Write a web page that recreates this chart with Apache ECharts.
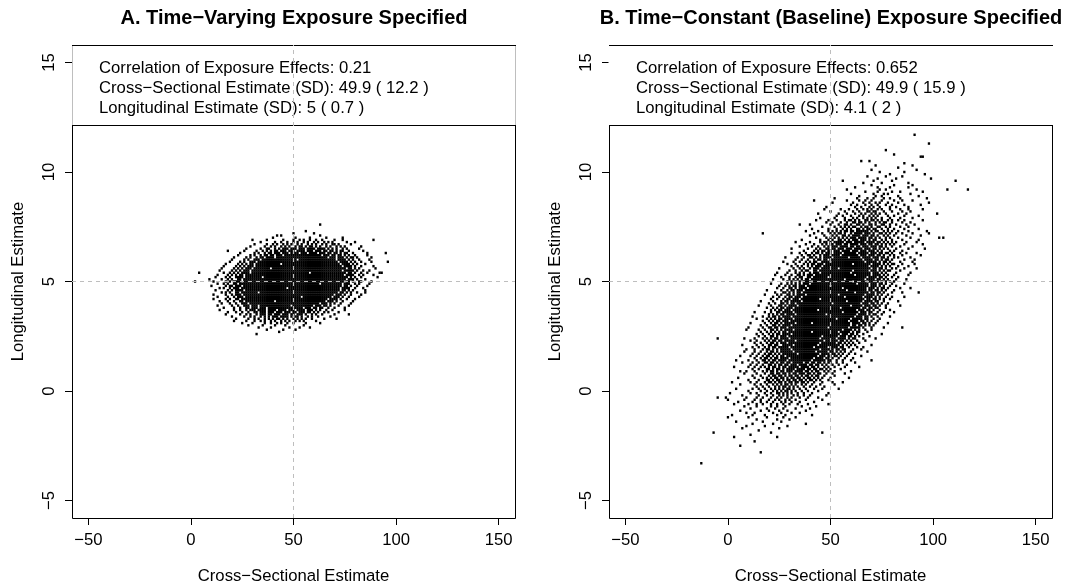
<!DOCTYPE html>
<html>
<head>
<meta charset="utf-8">
<script src="https://cdn.jsdelivr.net/npm/echarts@6/dist/echarts.min.js"></script>
<style>
html,body{margin:0;padding:0;background:#fff;}
#chart{width:1073px;height:586px;}
</style>
</head>
<body>
<div id="chart"></div>
<script>
// ---- text ----
const panelTitles = ['A. Time\u2212Varying Exposure Specified', 'B. Time\u2212Constant (Baseline) Exposure Specified'];
const statLinesA = ['Correlation of Exposure Effects: 0.21', 'Cross\u2212Sectional Estimate (SD): 49.9 ( 12.2 )', 'Longitudinal Estimate (SD): 5 ( 0.7 )'];
const statLinesB = ['Correlation of Exposure Effects: 0.652', 'Cross\u2212Sectional Estimate (SD): 49.9 ( 15.9 )', 'Longitudinal Estimate (SD): 4.1 ( 2 )'];
const xAxisTitle = 'Cross\u2212Sectional Estimate';
const yAxisTitle = 'Longitudinal Estimate';

// ---- axes ----
const xTicks = [-50, 0, 50, 100, 150];
const yTicks = [-5, 0, 5, 10, 15];
const xRange = [-58, 158];
const yRange = [-5.8, 15.8];
const crossRef = 50;
const longRef = 5;

// ---- simulation estimates ----
// each row: [longitudinal estimate, [cross-sectional estimates at that level]]
const rowsA = [
[7.6,[63]],
[7.3,[56]],
[7.2,[50,60]],
[7.1,[42,44,63]],
[7.0,[40,51,58,66,74]],
[6.9,[30,37,45,50,53,55,58,61,64,70,74,89]],
[6.8,[34,41,44,47,50,52,55,57,60,62,65,67,69,76,80]],
[6.7,[31,37,40,42,45,47,49,52,54,57,59,61,64,66,69,70,72,78]],
[6.6,[29,36,39,41,44,46,48,51,53,54,56,58,59,61,63,66,68,71,73,75,83]],
[6.5,[27,34,37,38,41,43,45,46,47,49,50,51,53,54,55,57,58,59,60,62,63,64,65,67,69,71,74,76,82]],
[6.4,[18,26,32,35,37,39,41,42,44,45,46,48,49,50,52,53,54,55,57,58,59,61,62,63,65,66,68,69,71,73,74,77,84]],
[6.3,[24,31,33,36,38,39,41,42,43,45,46,47,49,50,51,52,54,55,56,58,59,60,61,63,64,65,67,68,70,71,73,75,76,79,86,95]],
[6.2,[23,29,31,34,36,37,39,40,42,43,44,46,47,48,49,50,51,52,53,54,55,56,57,58,59,60,61,62,63,65,66,67,69,70,72,73,75,77,80,86]],
[6.1,[21,27,29,32,34,35,37,38,39,40,42,43,44,45,46,47,48,49,50,51,52,53,54,55,56,57,58,59,60,61,62,63,64,65,66,68,69,70,72,73,74,76,78,79,81,88]],
[6.0,[20,26,28,31,32,33,35,36,37,38,39,40,41,42,43,44,45,46,47,48,49,50,51,53,54,55,56,57,58,59,60,61,62,63,64,65,66,67,68,69,70,72,73,74,75,77,79,82,87]],
[5.9,[19,24,26,29,30,31,33,34,35,36,37,38,39,40,41,42,43,44,45,46,47,48,49,50,51,52,53,54,55,56,57,58,59,60,61,62,63,64,65,66,67,68,69,70,71,73,74,75,76,78,80,83,88,96]],
[5.8,[17,23,25,27,29,30,32,33,34,35,36,37,38,39,40,41,42,43,45,46,47,48,49,50,51,52,53,54,55,56,57,58,59,60,61,62,63,64,65,66,67,68,69,70,71,72,74,75,76,77,79,81,85]],
[5.7,[16,22,24,26,28,29,30,32,33,34,35,36,37,38,39,40,41,42,43,44,45,46,47,48,49,50,51,52,53,54,55,56,57,58,59,60,61,62,63,64,65,66,67,68,69,70,71,72,73,75,76,77,78,80,83,89]],
[5.6,[15,21,23,25,27,28,29,31,32,33,34,35,36,37,38,40,41,42,43,44,45,46,47,48,49,50,51,52,53,54,55,56,57,58,59,60,61,62,63,64,65,66,67,68,69,70,71,72,73,74,75,77,78,80,82,90]],
[5.5,[14,20,22,24,26,27,28,30,31,32,33,34,35,36,37,38,39,40,41,42,43,44,45,46,47,48,49,50,51,52,53,54,55,56,57,58,59,60,61,62,63,64,65,66,67,68,69,70,71,72,73,75,76,77,78,79,81,84,87]],
[5.4,[4,16,19,21,23,25,26,27,28,30,31,32,33,34,35,36,37,38,39,40,41,42,43,44,45,46,47,48,49,50,51,52,53,54,55,56,57,59,60,61,62,63,64,65,66,67,68,69,70,71,72,73,74,75,77,78,80,83,86,92,93]],
[5.3,[13,18,20,22,24,25,27,28,29,30,31,32,33,34,35,36,37,38,39,40,41,42,43,44,45,46,47,48,49,50,51,52,53,54,55,56,57,58,59,60,61,62,63,64,65,66,67,68,69,70,71,72,73,74,76,77,78,79,82,84,89]],
[5.2,[12,17,19,22,23,24,25,27,28,29,30,31,32,33,34,36,37,38,39,40,41,42,43,44,45,46,47,48,49,50,51,52,53,54,55,56,57,58,59,60,61,62,63,64,65,66,67,68,69,70,71,72,73,74,75,76,78,80,83,91]],
[5.1,[9,15,18,20,23,24,26,27,28,29,30,31,32,33,34,35,36,37,38,39,40,41,42,43,44,45,46,47,48,49,50,51,52,53,54,55,56,57,58,59,60,61,62,63,64,65,66,67,68,69,70,71,72,73,74,75,77,78,79,81,85]],
[5.0,[2,11,17,19,21,22,23,24,26,27,28,29,30,31,32,33,34,35,36,37,38,39,40,41,42,43,44,45,46,47,48,49,50,51,52,53,54,55,56,57,58,59,60,61,62,63,64,65,66,67,68,69,70,71,72,73,74,76,77,79,82,83,88]],
[4.9,[13,16,18,21,22,24,25,26,27,28,29,30,31,32,33,34,35,36,37,38,39,40,41,42,43,44,45,46,47,48,49,50,51,52,53,54,55,56,57,58,59,60,61,62,64,65,66,67,68,69,70,71,72,73,75,76,77,80,82,87]],
[4.8,[10,17,19,20,22,23,24,26,27,28,29,30,31,32,33,34,35,36,37,38,39,40,41,42,43,44,45,46,47,48,49,50,51,52,53,54,55,56,57,58,59,60,61,62,63,64,65,66,67,68,69,70,71,72,73,75,76,78,81,86]],
[4.7,[14,16,19,21,22,23,25,26,27,28,29,30,31,32,33,34,35,36,37,38,39,40,41,42,43,44,45,46,48,49,50,51,52,53,54,55,56,57,58,59,60,61,62,63,64,65,66,67,68,69,70,71,72,74,75,76,77,80,84]],
[4.6,[12,18,20,22,23,24,25,27,28,29,30,31,32,33,34,35,36,37,38,39,40,41,42,43,44,45,46,47,48,49,50,51,52,53,54,55,56,57,58,59,60,61,62,63,64,65,66,67,68,69,70,71,72,74,75,77,79,85]],
[4.5,[15,17,19,22,23,25,26,27,28,29,30,31,32,34,35,36,37,38,39,40,41,42,43,44,45,46,47,48,49,50,51,52,53,54,55,56,57,58,59,60,61,62,63,64,65,66,67,68,69,70,71,73,74,76,78,81,85]],
[4.4,[11,17,20,22,23,24,26,27,28,29,30,31,32,33,34,35,36,37,38,39,40,41,42,43,44,45,46,47,48,49,50,51,52,53,54,55,56,57,58,59,60,61,62,63,64,65,66,67,68,69,71,72,73,75,78,83]],
[4.3,[13,18,21,23,24,25,27,28,29,30,31,32,33,34,35,36,37,38,39,40,41,42,43,44,45,46,47,48,49,50,51,52,53,55,56,57,58,59,60,61,62,63,64,65,66,67,68,70,71,72,74,77,82]],
[4.2,[11,17,19,22,23,25,26,27,28,29,30,31,32,33,34,35,36,37,38,39,40,41,42,43,44,45,46,47,48,49,50,51,52,53,54,55,56,57,58,59,60,61,62,63,64,65,66,68,69,70,71,73,76,80]],
[4.1,[14,18,21,24,25,27,28,29,30,31,32,33,34,35,36,37,38,39,40,42,43,44,45,46,47,48,49,50,51,52,53,54,55,56,57,58,59,60,61,62,63,64,65,67,68,69,71,74,79]],
[4.0,[15,19,22,25,26,27,29,30,31,32,33,34,35,36,37,38,39,40,41,42,43,44,45,46,47,48,49,50,51,52,53,54,55,56,57,58,59,60,61,62,64,65,66,68,70,73,78]],
[3.9,[13,20,23,26,27,28,30,31,32,34,35,36,37,38,39,40,41,42,43,44,45,46,47,48,50,51,52,53,54,55,56,57,58,59,61,62,63,65,66,68,72,77]],
[3.8,[16,21,24,27,28,30,31,32,34,35,36,38,39,40,41,42,43,44,45,46,47,48,49,50,51,52,53,54,56,57,58,60,61,63,64,67,70,75]],
[3.7,[14,21,24,27,29,30,31,33,34,35,36,38,39,40,41,43,44,45,46,48,49,50,52,53,54,55,57,58,59,61,63,66,69,75]],
[3.6,[18,22,25,28,31,32,34,35,36,38,39,40,42,43,44,46,47,48,50,51,53,54,55,57,58,60,62,65,67,72]],
[3.5,[17,24,27,29,32,34,35,36,38,39,41,42,43,45,46,47,49,50,52,53,54,56,59,61,64,70,77]],
[3.4,[20,26,29,31,34,36,38,40,41,42,44,45,46,47,49,51,52,54,57,59,62,68]],
[3.3,[22,28,31,33,36,38,40,42,43,45,47,50,52,54,56,59,65,71]],
[3.2,[21,27,31,34,36,39,41,44,46,48,51,53,55,61]],
[3.1,[25,30,36,39,42,44,47,50,56,63]],
[3.0,[28,35,41,46,55]],
[2.9,[33,39,48,53,58]],
[2.8,[37,45,51]],
[2.7,[43]],
[2.6,[32]]
];

const rowsB = [
[11.7,[91]],
[11.3,[98]],
[11.0,[77]],
[10.8,[81]],
[10.7,[94,95]],
[10.5,[65,69]],
[10.4,[86]],
[10.3,[72,90]],
[10.2,[83]],
[10.1,[70,92]],
[10.0,[74,86]],
[9.9,[79,96]],
[9.8,[68,77,85]],
[9.7,[73,82,99]],
[9.6,[56,71,80,111]],
[9.5,[66,75,88]],
[9.4,[70,81,90]],
[9.3,[62,73,79,88]],
[9.2,[58,74,77,92,107,117]],
[9.1,[67,73,80,84,95]],
[9.0,[60,71,76,78,89]],
[8.9,[64,72,75,83,93]],
[8.8,[52,63,68,71,76,79,84,97]],
[8.7,[42,58,64,67,70,75,81,85,90]],
[8.6,[51,61,66,69,72,74,78,83,98]],
[8.5,[60,63,67,70,73,77,80,86,94]],
[8.4,[48,62,65,69,71,74,79,82,88]],
[8.3,[47,55,59,63,66,68,70,73,75,79,84,88,95]],
[8.2,[50,57,61,64,68,69,71,72,76,80,85,89]],
[8.1,[44,54,58,62,65,67,70,72,74,77,83,87,102]],
[8.0,[53,56,60,64,66,69,71,73,78,81,86,93]],
[7.9,[45,52,57,61,63,66,68,70,72,75,79,84,90]],
[7.8,[43,49,53,57,59,60,62,64,67,68,70,71,73,75,78,80,83,86,95]],
[7.7,[48,51,55,58,61,62,64,65,67,69,72,74,76,77,80,85,89]],
[7.6,[35,40,50,54,57,58,60,63,64,66,69,70,72,75,76,79,82,87,91]],
[7.5,[46,52,55,57,59,61,62,65,67,68,70,73,74,77,79,84,88]],
[7.4,[41,49,53,56,58,60,63,64,66,68,69,71,72,75,78,81,86,93]],
[7.3,[38,44,49,51,53,55,57,58,60,61,63,64,65,66,67,68,70,72,73,76,78,80,83,88,97]],
[7.2,[17,42,46,50,52,54,55,57,60,62,63,64,65,67,68,69,71,74,75,77,79,82,85,90,98]],
[7.1,[40,47,51,53,56,57,59,61,62,63,64,66,67,68,70,71,73,76,78,81,87,94]],
[7.0,[43,48,50,52,54,56,58,60,61,62,64,65,66,67,69,70,72,74,77,79,83,89,103,105]],
[6.9,[36,45,49,51,54,55,57,59,61,62,63,65,66,67,69,71,72,75,77,80,85,93]],
[6.8,[33,40,45,47,48,50,52,53,54,55,56,58,59,60,62,63,64,65,66,68,69,70,71,73,74,76,78,80,82,87,92]],
[6.7,[38,42,46,48,50,51,53,54,55,57,58,60,61,62,63,65,66,67,69,70,72,73,75,77,79,81,86,95]],
[6.6,[35,41,44,47,49,51,52,53,55,56,57,58,60,61,63,64,66,67,68,70,71,72,74,75,77,80,84,90]],
[6.5,[31,39,43,45,48,49,51,52,54,55,56,58,59,60,62,63,64,65,67,68,69,71,72,74,76,78,82,88,96]],
[6.4,[37,42,44,46,47,49,50,52,53,54,56,57,58,59,61,62,63,65,66,67,69,70,71,73,75,79,81,85]],
[6.3,[31,35,38,41,43,44,46,48,49,50,52,53,54,55,57,58,59,60,61,62,64,65,66,67,68,70,71,72,74,75,77,78,80,84,87,92]],
[6.2,[36,39,40,42,45,47,48,49,51,52,53,54,56,57,58,59,60,61,62,63,65,66,67,69,70,71,73,74,76,79,81,85,94]],
[6.1,[28,34,37,40,41,43,45,47,48,49,50,52,53,54,55,56,57,58,60,61,62,63,64,66,67,68,69,71,72,73,75,76,78,81,83,89]],
[6.0,[33,36,39,42,44,45,47,48,50,51,52,53,54,55,56,57,58,59,60,61,62,63,64,65,67,68,69,70,72,73,75,77,78,80,86,91]],
[5.9,[27,32,35,38,40,42,43,46,47,48,49,51,52,53,54,55,56,57,58,59,60,61,62,63,64,65,66,68,69,70,71,72,74,76,77,79,84,90]],
[5.8,[29,33,37,39,41,42,44,45,46,48,49,50,51,52,53,54,55,56,57,58,59,60,62,63,64,65,66,67,68,69,71,72,73,74,76,78,80,81,85,91]],
[5.7,[31,34,36,39,41,43,44,45,47,48,49,50,51,52,53,54,55,56,57,58,59,60,61,62,63,64,65,66,67,68,70,71,72,73,75,77,79,83,88]],
[5.6,[25,32,35,37,40,42,43,44,46,47,48,49,50,51,52,53,55,56,57,58,59,60,61,62,63,64,65,66,67,68,69,71,72,74,75,77,80,82,86,92]],
[5.5,[30,33,36,38,39,42,43,45,46,47,48,49,50,51,52,53,54,55,56,57,58,59,60,62,63,64,65,66,67,68,70,71,72,74,76,78,79,84]],
[5.4,[24,29,33,35,37,40,42,43,44,46,47,48,49,50,51,52,53,54,55,56,57,58,59,61,62,63,64,65,66,67,68,69,71,72,73,75,77,82,89]],
[5.3,[23,28,31,34,35,37,39,40,41,43,44,45,46,47,48,49,50,51,52,53,54,55,56,57,58,59,60,61,63,64,65,66,67,68,69,71,72,73,74,76,78,81,88]],
[5.2,[26,30,33,35,36,39,40,42,43,44,45,46,47,48,50,51,52,53,54,55,56,57,58,59,60,61,62,63,64,65,66,67,69,70,71,72,74,75,77,80,83]],
[5.1,[22,27,30,32,34,36,38,39,41,42,43,44,45,46,47,48,49,50,51,52,53,54,55,56,58,59,60,61,62,63,64,65,66,68,69,70,71,73,74,76,78,82,87]],
[5.0,[29,31,33,35,37,38,39,40,42,43,44,45,46,47,48,49,50,51,52,53,54,55,56,57,58,59,60,62,63,64,65,66,67,69,70,71,72,73,75,77,79,81]],
[4.9,[21,26,29,31,33,35,37,38,39,41,42,43,44,45,46,47,48,49,50,51,52,53,54,55,56,57,58,59,60,61,62,64,65,66,67,68,70,71,72,74,75,77,80,86]],
[4.8,[25,28,30,32,33,35,36,37,39,40,41,42,43,44,45,46,47,48,49,51,52,53,54,55,56,57,58,59,60,61,62,63,64,65,66,67,68,70,71,72,74,76,79,82]],
[4.7,[24,27,30,31,33,35,36,37,38,40,41,42,43,44,45,46,47,48,49,50,51,52,53,54,55,57,58,59,60,61,62,63,64,65,66,67,69,70,71,73,75,76,78,84,89]],
[4.6,[19,26,29,31,32,34,35,36,38,39,40,41,42,43,44,45,46,47,48,49,50,51,52,53,54,55,56,57,59,60,61,62,63,64,65,66,67,69,70,72,73,75,77,81]],
[4.5,[23,27,28,30,32,34,35,37,38,39,40,41,42,43,44,45,46,47,48,49,50,51,52,53,54,55,56,57,58,59,60,61,63,64,65,66,67,68,70,71,73,74,76,80,85,93]],
[4.4,[18,24,26,29,30,32,34,35,36,37,39,40,41,42,43,44,45,46,47,48,49,50,51,52,53,55,56,57,58,59,60,61,62,63,64,65,66,68,69,70,71,73,75,78]],
[4.3,[22,25,28,30,31,33,34,35,37,38,39,40,41,42,43,44,45,46,47,48,49,50,51,52,53,54,55,56,58,59,60,61,62,63,64,65,67,68,69,70,72,74,77,80,86]],
[4.2,[21,24,27,29,30,32,33,34,36,37,38,39,40,41,42,43,44,46,47,48,49,50,51,52,53,54,55,56,57,58,59,60,61,62,63,64,65,66,68,69,71,72,74,76,79]],
[4.1,[16,22,26,28,29,31,32,33,34,35,37,38,39,40,41,42,43,44,45,46,47,48,49,50,51,52,53,54,55,56,57,59,60,61,62,63,64,65,67,68,69,70,72,73,76,83]],
[4.0,[20,23,26,27,29,31,32,34,35,36,37,38,39,40,41,42,43,44,45,46,47,48,49,50,52,53,54,55,56,57,58,59,60,61,62,63,64,66,67,68,70,71,73,75,78]],
[3.9,[15,21,25,26,28,30,31,32,33,35,36,37,38,39,40,41,42,43,44,45,46,47,48,49,50,51,52,53,54,55,56,57,58,59,61,62,63,64,65,67,68,69,71,72,74,77,84]],
[3.8,[19,22,24,26,27,29,30,31,33,34,35,36,37,38,39,40,41,42,43,44,45,46,47,48,49,50,51,52,53,54,56,57,58,59,60,61,62,63,64,66,67,69,70,72,73,77]],
[3.7,[21,23,25,26,28,29,30,32,33,34,35,36,37,38,39,40,41,42,43,45,46,47,48,49,50,51,52,53,54,55,56,57,58,59,60,61,62,64,65,66,68,69,71,74,79]],
[3.6,[13,18,21,24,25,27,28,29,30,31,33,34,35,36,37,38,39,40,41,42,43,44,45,46,47,48,49,50,51,52,53,54,55,57,58,59,60,61,62,63,65,66,67,69,70,73,76,81]],
[3.5,[20,22,24,26,27,29,30,31,32,34,35,36,37,38,39,40,41,42,43,44,45,46,47,49,50,51,52,53,54,55,56,57,58,59,60,61,62,64,65,66,67,69,71,72,75]],
[3.4,[12,17,20,22,23,25,27,28,29,30,32,33,34,35,36,37,38,39,40,41,42,43,44,45,46,47,48,49,50,51,52,53,54,55,56,57,58,59,60,61,63,64,65,67,68,70,73,79]],
[3.3,[14,19,21,23,25,26,28,29,30,31,33,34,35,36,37,38,39,40,41,42,43,44,45,46,47,48,49,50,51,52,54,55,56,57,58,59,61,62,63,64,65,67,68,71,74]],
[3.2,[17,20,22,24,25,27,28,29,31,32,33,34,35,36,37,38,39,40,41,42,43,44,45,46,47,48,49,50,51,52,53,54,55,56,57,58,60,61,62,63,65,66,68,70,73]],
[3.1,[11,18,21,23,24,26,28,29,30,31,32,34,35,36,37,38,39,40,42,43,44,45,46,47,48,49,50,51,52,53,54,55,56,57,58,59,61,62,63,64,66,67,69,72,78]],
[3.0,[16,19,22,23,25,27,28,29,30,32,33,34,35,36,37,38,39,40,41,42,43,44,45,46,47,48,49,50,51,52,53,54,55,56,57,58,59,61,62,64,65,67,69,71]],
[2.9,[10,17,20,21,23,24,26,27,28,30,31,32,33,34,35,36,37,38,39,40,41,42,43,44,45,46,47,48,50,51,52,53,54,55,56,57,58,60,61,62,63,64,66,70,76,85]],
[2.8,[9,15,18,21,22,24,26,28,29,30,31,33,34,35,36,37,38,39,40,41,42,43,44,45,46,47,48,49,50,51,52,53,54,55,57,58,59,60,62,64,67,70]],
[2.7,[16,19,21,23,25,27,28,30,31,32,33,34,35,36,37,38,39,40,42,43,44,45,46,47,48,49,50,51,52,53,55,56,57,58,59,61,63,64,68]],
[2.6,[14,17,20,22,24,25,27,28,29,30,32,33,34,35,36,37,38,39,40,41,42,43,44,45,46,47,48,49,50,51,52,53,54,56,57,58,60,61,63,66,75]],
[2.5,[15,18,21,22,24,26,27,28,30,31,32,33,34,35,36,37,38,39,40,41,42,43,44,45,47,48,49,50,51,52,53,55,56,57,59,60,62,64,69]],
[2.4,[-5,8,13,17,19,21,23,24,26,27,28,29,31,32,33,34,35,36,37,38,39,40,41,42,43,44,46,47,48,49,50,51,52,54,55,56,57,59,61,62,66,72]],
[2.3,[11,14,18,20,22,23,25,26,28,29,30,31,32,34,35,36,37,38,39,40,41,42,43,44,45,46,48,49,50,51,52,53,55,56,58,60,63,67]],
[2.2,[13,16,19,21,22,24,26,27,28,30,31,32,33,34,35,36,37,38,39,40,41,42,43,44,46,47,48,49,50,51,52,54,55,57,59,61,64]],
[2.1,[7,14,17,20,21,23,24,27,28,29,30,31,33,34,35,36,37,38,39,40,41,42,43,45,46,47,48,49,50,51,52,53,54,56,58,60,62,70]],
[2.0,[12,15,18,20,22,23,25,26,27,28,29,31,32,33,34,35,36,37,38,39,40,41,43,44,45,46,47,48,50,51,52,53,55,56,59,63,66]],
[1.9,[9,13,17,19,20,22,24,26,27,28,29,30,32,33,34,35,36,37,38,39,40,41,42,43,44,46,47,48,49,50,51,53,54,56,57,61,65]],
[1.8,[8,13,16,19,21,22,24,26,27,28,29,30,31,33,34,35,36,37,38,39,40,41,42,44,45,46,47,48,50,51,53,55,57,60,68]],
[1.7,[12,15,18,20,21,23,25,27,28,29,30,31,32,33,35,36,37,38,39,40,41,42,43,44,46,47,48,49,51,52,54,56,59,62]],
[1.6,[6,11,14,17,19,20,22,24,26,27,29,30,31,32,33,34,35,36,37,38,39,40,41,42,43,45,46,47,49,50,52,53,55,58,65]],
[1.5,[13,16,18,19,21,23,24,26,27,28,29,31,32,33,34,35,36,37,38,39,40,41,43,44,45,46,48,49,51,54,57,61]],
[1.4,[4,10,14,17,18,20,22,23,25,26,27,28,30,31,32,33,34,35,36,37,38,39,40,42,43,44,45,46,47,49,50,53,56,60,70]],
[1.3,[7,12,15,18,19,21,22,24,26,27,29,30,32,33,34,35,36,38,39,41,42,44,45,47,49,50,53,56,62]],
[1.2,[11,14,17,20,21,23,25,26,28,29,31,32,33,35,36,37,38,40,41,43,44,46,48,51,54,58]],
[1.1,[3,10,13,16,18,20,22,23,25,27,28,30,31,32,33,34,36,37,38,39,41,42,44,47,49,52,57,64]],
[1.0,[12,15,19,20,22,24,25,27,29,30,31,32,34,35,36,37,39,40,42,43,45,46,48,50,55]],
[0.9,[6,9,13,17,19,21,22,24,26,27,29,30,31,33,34,35,36,38,39,41,43,44,47,49,52,60]],
[0.8,[8,14,18,21,22,24,25,27,28,30,32,33,35,36,37,39,40,42,44,45,48,51,57]],
[0.7,[12,16,20,22,23,25,26,28,30,31,33,34,36,38,39,41,43,44,47,52]],
[0.6,[5,13,17,19,21,23,24,26,27,29,31,32,34,35,37,39,40,42,44,46,50,59]],
[0.5,[10,15,19,20,22,24,25,27,29,30,32,33,35,36,38,40,41,43,45,49]],
[0.4,[2,11,14,18,20,21,23,25,26,28,30,31,33,34,36,37,39,42,46,51,56]],
[0.3,[6,13,16,19,22,24,26,28,29,31,33,36,38,41,45,52]],
[0.2,[14,17,20,23,25,27,28,30,32,34,37,40,43,47]],
[0.1,[4,12,15,18,21,23,25,27,29,30,32,35,38,42,46,54]],
[0.0,[10,16,19,22,24,26,28,29,31,33,36,39,44]],
[-0.1,[1,11,14,18,21,24,25,27,29,31,34,37,41,49]],
[-0.2,[7,15,19,22,25,27,29,32,34,37,40,48]],
[-0.3,[-5,-1,9,14,17,21,24,26,29,31,35,39,44]],
[-0.4,[0,8,13,16,20,23,25,28,30,33,38,46]],
[-0.5,[5,12,16,19,22,26,28,31,35,42]],
[-0.6,[3,10,14,17,21,24,27,30,34,39,49]],
[-0.7,[8,14,21,24,28,36,43]],
[-0.8,[11,19,23,27,33,40]],
[-0.9,[6,16,20,25,29,38]],
[-1.0,[9,13,22,26,31,35]],
[-1.1,[2,12,18,24,28,41]],
[-1.2,[0,10,19,27,33]],
[-1.3,[14,24,30]],
[-1.4,[4,17,26]],
[-1.5,[12,22,38]],
[-1.6,[9,18,29]],
[-1.7,[7,25]],
[-1.8,[15]],
[-1.9,[-7,21,46]],
[-2.0,[11]],
[-2.1,[3,24]],
[-2.3,[13]],
[-2.5,[6]],
[-2.8,[16]],
[-3.3,[-13]]
];

// ---- layout ----
const FONT = "'Liberation Sans', Arimo, Arial, Helvetica, sans-serif";
const PLOT_TOP = 45, PLOT_W = 443, PLOT_H = 473, KEY_H = 80;
const panels = [
  { left: 72,  rows: rowsA, title: panelTitles[0], stats: statLinesA, keyBorder: '#bebebe' },
  { left: 609, rows: rowsB, title: panelTitles[1], stats: statLinesB, keyBorder: null }
];

const minus = v => String(v).replace('-', '\u2212');
const toPoints = rows => rows.flatMap(([y, xs]) => xs.map(x => [x, y]));

const grids = [], xAxes = [], yAxes = [], series = [], graphics = [];

panels.forEach((p, i) => {
  grids.push({ left: p.left, top: PLOT_TOP, width: PLOT_W, height: PLOT_H, show: false, outerBoundsMode: 'none', containLabel: false });

  xAxes.push({
    gridIndex: i, type: 'value', min: xRange[0], max: xRange[1], position: 'bottom',
    splitLine: { show: false }, axisLine: { show: false, onZero: false },
    axisTick: { show: true, inside: false, length: 7, lineStyle: { color: '#000', width: 1 }, customValues: xTicks },
    axisLabel: { customValues: xTicks, formatter: minus, color: '#000', fontSize: 16.7, fontFamily: FONT, margin: 14 },
    name: xAxisTitle, nameLocation: 'middle', nameGap: 50,
    nameTextStyle: { color: '#000', fontSize: 16.7, fontFamily: FONT }
  });

  yAxes.push({
    gridIndex: i, type: 'value', min: yRange[0], max: yRange[1], position: 'left',
    splitLine: { show: false }, axisLine: { show: false, onZero: false },
    axisTick: { show: true, inside: false, length: 7, lineStyle: { color: '#000', width: 1 }, customValues: yTicks },
    axisLabel: { customValues: yTicks, formatter: minus, rotate: 90, color: '#000', fontSize: 16.7, fontFamily: FONT, margin: 14 },
    name: yAxisTitle, nameLocation: 'middle', nameGap: 45, nameRotate: 90,
    nameTextStyle: { color: '#000', fontSize: 16.7, fontFamily: FONT }
  });

  series.push({
    type: 'scatter', xAxisIndex: i, yAxisIndex: i,
    data: toPoints(p.rows),
    symbol: 'rect', symbolSize: [2.3, 2.5],
    itemStyle: { color: '#000', opacity: 1 },
    emphasis: { disabled: true }, silent: true, z: 2
  });

  // dashed reference lines at the true effect sizes
  const refStyle = { color: '#bebebe', width: 1, type: [4, 4] };
  series.push({
    type: 'line', xAxisIndex: i, yAxisIndex: i, symbol: 'none', silent: true, z: 3,
    data: [[crossRef, yRange[0]], [crossRef, yRange[1]]], lineStyle: refStyle
  });
  series.push({
    type: 'line', xAxisIndex: i, yAxisIndex: i, symbol: 'none', silent: true, z: 3,
    data: [[xRange[0], longRef], [xRange[1], longRef]], lineStyle: refStyle
  });

  const L = p.left;
  // plot frame
  graphics.push({ type: 'rect', z: 10, silent: true,
    shape: { x: L + 0.5, y: PLOT_TOP + 0.5, width: PLOT_W, height: PLOT_H },
    style: { fill: null, stroke: '#000', lineWidth: 1 } });
  // key box with white background
  if (p.keyBorder) {
    graphics.push({ type: 'rect', z: 20, silent: true,
      shape: { x: L + 0.5, y: PLOT_TOP + 0.5, width: PLOT_W, height: KEY_H },
      style: { fill: '#fff', stroke: p.keyBorder, lineWidth: 1 } });
  } else {
    graphics.push({ type: 'rect', z: 20, silent: true,
      shape: { x: L - 0.5, y: PLOT_TOP + 1, width: PLOT_W + 2, height: KEY_H },
      style: { fill: '#fff', stroke: null } });
  }
  graphics.push({ type: 'line', z: 30, silent: true,
    shape: { x1: L, y1: PLOT_TOP + 0.5, x2: L + PLOT_W + 1, y2: PLOT_TOP + 0.5 },
    style: { stroke: '#000', lineWidth: 1 } });
  graphics.push({ type: 'line', z: 30, silent: true,
    shape: { x1: L, y1: PLOT_TOP + KEY_H + 0.5, x2: L + PLOT_W + 1, y2: PLOT_TOP + KEY_H + 0.5 },
    style: { stroke: '#000', lineWidth: 1 } });

  p.stats.forEach((line, k) => {
    graphics.push({ type: 'text', z: 40, silent: true,
      x: L + 27, y: PLOT_TOP + 23 + k * 20,
      style: { text: line, fill: '#000', font: '16.7px ' + FONT, align: 'left', verticalAlign: 'middle' } });
  });

  graphics.push({ type: 'text', z: 40, silent: true,
    x: L + PLOT_W / 2 + 0.5, y: 18,
    style: { text: p.title, fill: '#000', font: 'bold 20px ' + FONT, align: 'center', verticalAlign: 'middle' } });
});

const chart = echarts.init(document.getElementById('chart'), null, { renderer: 'canvas' });
chart.setOption({
  animation: false,
  backgroundColor: '#fff',
  grid: grids,
  xAxis: xAxes,
  yAxis: yAxes,
  series: series,
  graphic: graphics
});
</script>
</body>
</html>
